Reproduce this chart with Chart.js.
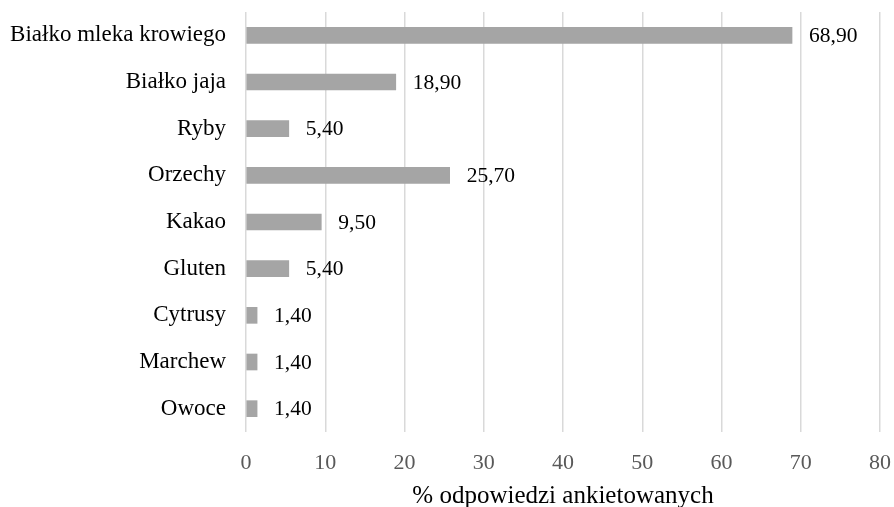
<!DOCTYPE html>
<html lang="pl">
<head>
    <meta charset="UTF-8">
    <title>Alergeny</title>
    <style>
        body {
            margin: 0;
            padding: 0;
            background-color: #fff;
        }

        #wrap {
            width: 894px;
            height: 507px;
        }
    </style>
</head>
<body>

    <div id="wrap">
        <canvas id="allergyChart"></canvas>
    </div>

    <script src="https://cdn.jsdelivr.net/npm/chart.js"></script>
    <script>
        var categories = ['Białko mleka krowiego', 'Białko jaja', 'Ryby', 'Orzechy', 'Kakao', 'Gluten', 'Cytrusy', 'Marchew', 'Owoce'];
        var percentValues = [68.9, 18.9, 5.4, 25.7, 9.5, 5.4, 1.4, 1.4, 1.4];
        var xTicks = [0, 10, 20, 30, 40, 50, 60, 70, 80];
        var axisTitle = '% odpowiedzi ankietowanych';

        var serif = "'Liberation Serif', 'Times New Roman', serif";

        // writes the value (with a decimal comma) just past the end of each bar
        var valueLabels = {
            id: 'valueLabels',
            afterDatasetsDraw: function (chart) {
                var ctx = chart.ctx;
                var meta = chart.getDatasetMeta(0);
                ctx.save();
                ctx.font = '21.5px ' + serif;
                ctx.fillStyle = '#000';
                ctx.textAlign = 'left';
                ctx.textBaseline = 'middle';
                meta.data.forEach(function (bar, i) {
                    var txt = percentValues[i].toFixed(2).replace('.', ',');
                    ctx.fillText(txt, bar.x + 17, bar.y + 1);
                });
                ctx.restore();
            }
        };

        var ctx = document.getElementById('allergyChart').getContext('2d');
        var allergyChart = new Chart(ctx, {
            type: 'bar',
            data: {
                labels: categories,
                datasets: [{
                    data: percentValues,
                    backgroundColor: '#a5a5a5',
                    barThickness: 16
                }]
            },
            options: {
                indexAxis: 'y',
                responsive: true,
                maintainAspectRatio: false,
                animation: false,
                layout: {
                    padding: { top: 12, right: 14, bottom: 0, left: 0 }
                },
                plugins: {
                    legend: { display: false },
                    tooltip: { enabled: false }
                },
                scales: {
                    x: {
                        min: 0,
                        max: 80,
                        afterBuildTicks: function (scale) {
                            scale.ticks = xTicks.map(function (v) { return { value: v }; });
                        },
                        afterFit: function (scale) {
                            scale.height = 75;
                            scale.paddingLeft = 0;
                            scale.paddingRight = 0;
                        },
                        grid: {
                            color: '#d9d9d9',
                            lineWidth: 1.5,
                            drawTicks: false
                        },
                        border: { display: false },
                        ticks: {
                            padding: 18,
                            color: '#595959',
                            font: { family: serif, size: 22 }
                        },
                        title: {
                            display: true,
                            text: axisTitle,
                            color: '#000',
                            padding: { top: 0, bottom: -4 },
                            font: { family: serif, size: 25 }
                        }
                    },
                    y: {
                        afterFit: function (scale) {
                            scale.width = 246;
                            scale.paddingTop = 0;
                            scale.paddingBottom = 0;
                        },
                        grid: { display: false, drawTicks: false },
                        border: { display: false },
                        ticks: {
                            padding: 20,
                            color: '#000',
                            font: { family: serif, size: 23 }
                        }
                    }
                }
            },
            plugins: [valueLabels]
        });
    </script>

</body>
</html>
